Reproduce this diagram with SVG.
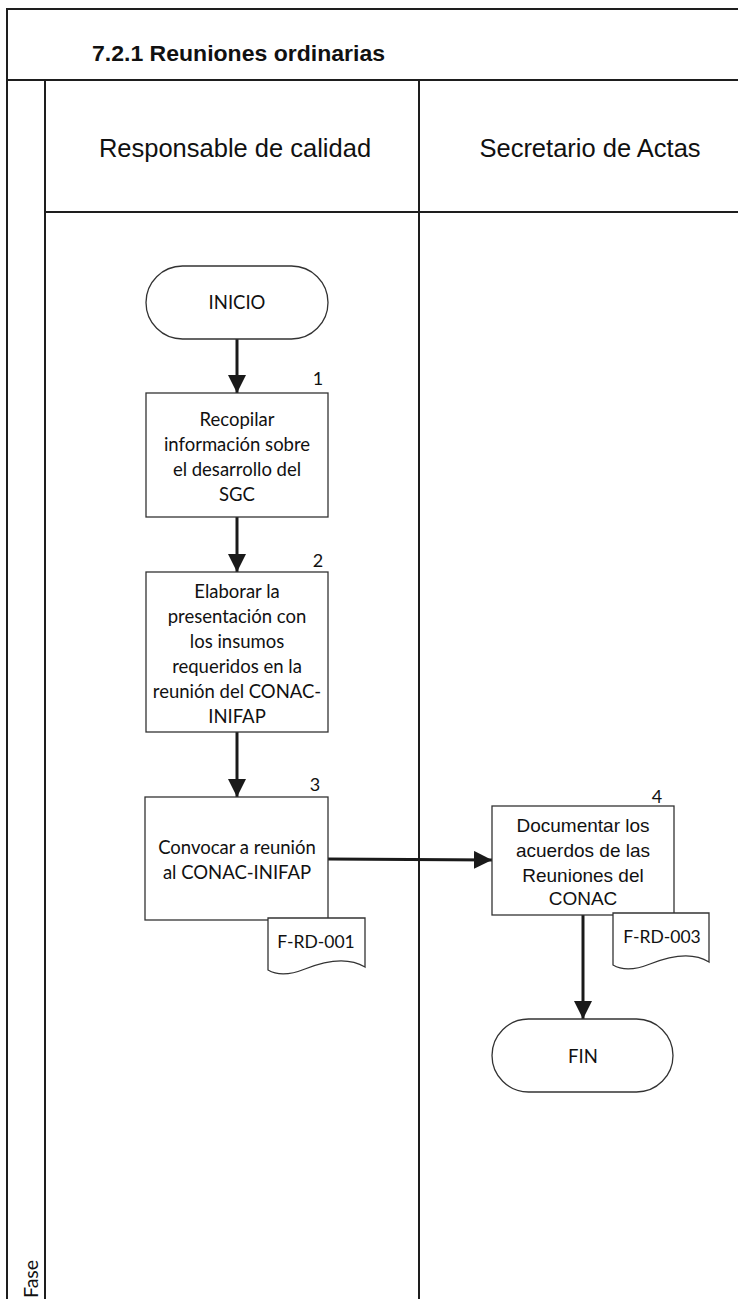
<svg xmlns="http://www.w3.org/2000/svg" width="738" height="1299" viewBox="0 0 738 1299">
<defs>
<style>
.frame{fill:none;stroke:#1e1e1e;stroke-width:2}
.shape{fill:#ffffff;stroke:#333333;stroke-width:1.3}
.conn{fill:none;stroke:#1a1a1a;stroke-width:3}
.cal{font-family:Lato,"Open Sans",sans-serif;font-size:18.5px;fill:#111;text-anchor:middle}
.doc{font-family:Lato,"Open Sans",sans-serif;font-size:17.5px;fill:#111;text-anchor:middle}
.ari{font-family:"Liberation Sans",Arial,sans-serif;fill:#111;text-anchor:middle}
.num{font-family:Lato,"Open Sans",sans-serif;font-size:18px;fill:#111;text-anchor:middle}
</style>
<marker id="ah" markerWidth="6" markerHeight="6" refX="6" refY="3" orient="auto" markerUnits="strokeWidth">
<path d="M0,0 L6,3 L0,6 Z" fill="#1a1a1a"/>
</marker>
</defs>
<rect width="738" height="1299" fill="#ffffff"/>
<g id="pool">
<path class="frame" d="M7,1299 V9 H738 M7,80 H738 M45,80 V1299 M419,80 V1299 M45,212 H738"/>
<text x="92" y="61" font-family="Liberation Sans,Arial,sans-serif" font-weight="bold" font-size="22.5" fill="#111" textLength="293" lengthAdjust="spacingAndGlyphs">7.2.1 Reuniones ordinarias</text>
<text class="ari" x="235" y="157" font-size="25.5">Responsable de calidad</text>
<text class="ari" x="590" y="157" font-size="25.5">Secretario de Actas</text>
<text x="38" y="1298" font-family="Lato,'Open Sans',sans-serif" font-size="19.5" fill="#111" transform="rotate(-90 38 1298)">Fase</text>
</g>
<g id="connectors">
<line class="conn" x1="237" y1="339" x2="237" y2="393" marker-end="url(#ah)"/>
<line class="conn" x1="237" y1="517" x2="237" y2="572" marker-end="url(#ah)"/>
<line class="conn" x1="237" y1="732" x2="237" y2="797" marker-end="url(#ah)"/>
<line class="conn" x1="328" y1="859" x2="492" y2="860" marker-end="url(#ah)"/>
<line class="conn" x1="583" y1="915" x2="583" y2="1019" marker-end="url(#ah)"/>
</g>
<g id="inicio">
<rect class="shape" x="146" y="266" width="182" height="73" rx="36.5"/>
<text class="cal" x="237" y="309">INICIO</text>
</g>
<g id="paso1">
<rect class="shape" x="146" y="393" width="182" height="124"/>
<text class="num" x="318" y="385">1</text>
<text class="cal" x="237" y="426">Recopilar</text>
<text class="cal" x="237" y="451">información sobre</text>
<text class="cal" x="237" y="476">el desarrollo del</text>
<text class="cal" x="237" y="501">SGC</text>
</g>
<g id="paso2">
<rect class="shape" x="146" y="572" width="182" height="160"/>
<text class="num" x="318" y="567">2</text>
<text class="cal" x="237" y="598">Elaborar la</text>
<text class="cal" x="237" y="623">presentación con</text>
<text class="cal" x="237" y="648">los insumos</text>
<text class="cal" x="237" y="673">requeridos en la</text>
<text class="cal" x="237" y="698">reunión del CONAC-</text>
<text class="cal" x="237" y="723">INIFAP</text>
</g>
<g id="paso3">
<rect class="shape" x="145" y="797" width="183" height="123"/>
<text class="num" x="315" y="791">3</text>
<text class="cal" x="237" y="854">Convocar a reunión</text>
<text class="cal" x="237" y="879">al CONAC-INIFAP</text>
</g>
<g id="doc1">
<path class="shape" d="M268,918 H365 V967 C345,955 320,963 305,969 C290,975 278,976 268,970 Z"/>
<text class="doc" x="316" y="948">F-RD-001</text>
</g>
<g id="paso4">
<rect class="shape" x="492" y="806" width="182" height="109"/>
<text class="num" x="657" y="803">4</text>
<text class="ari" x="583" y="832" font-size="19">Documentar los</text>
<text class="ari" x="583" y="857" font-size="19">acuerdos de las</text>
<text class="ari" x="583" y="882" font-size="19">Reuniones del</text>
<text class="ari" x="583" y="905" font-size="19">CONAC</text>
</g>
<g id="doc2">
<path class="shape" d="M613,913 H709 V962 C690,950 665,958 650,964 C635,970 623,971 613,965 Z"/>
<text class="doc" x="662" y="943">F-RD-003</text>
</g>
<g id="fin">
<rect class="shape" x="492" y="1019" width="181" height="73" rx="36.5"/>
<text class="cal" x="583" y="1063">FIN</text>
</g>
</svg>
